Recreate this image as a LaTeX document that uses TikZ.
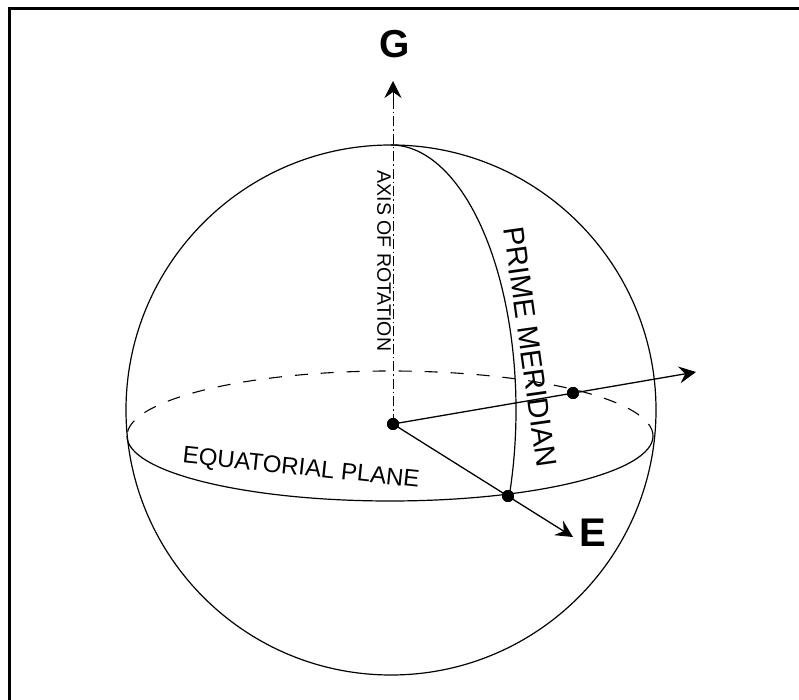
\documentclass[tikz,border=0pt]{standalone}
\usepackage{fontspec}
\setmainfont{Liberation Sans}
\usetikzlibrary{arrows.meta}
\begin{document}
\begin{tikzpicture}[x=1pt,y=1pt,
  thinline/.style={line width=1.2pt},
  dotnode/.style={circle,fill=black,inner sep=0pt,minimum size=12pt},
  arrowhd/.style={-{Stealth[length=17pt,width=17pt,inset=6pt]}},
  axisline/.style={line width=0.8pt,dash pattern=on 10pt off 3pt on 1.5pt off 3pt},
  backline/.style={line width=1.1pt,dash pattern=on 13pt off 13pt},
  lbl/.style={inner sep=0pt}
]
\useasboundingbox (0,0) rectangle (799,700);
\clip (0,0) rectangle (799,700);
\fill[white] (0,0) rectangle (799,700);
% frame
\draw[line width=3pt] (9.7,-30) -- (9.7,691) -- (830,691);
% sphere
\draw[thinline] (391,290) circle[radius=265];
% equator
\draw[thinline] (127,264) arc[start angle=180,end angle=360,x radius=263,y radius=65];
\draw[backline] (653,264) arc[start angle=0,end angle=180,x radius=263,y radius=65];
% dots
\node[dotnode] (O) at (393,276) {};
\node[dotnode] (P) at (573,307) {};
\node[dotnode] (Ed) at (508,204) {};
\coordinate (Gtip) at (393,619);
\coordinate (Xtip) at (696,328);
\coordinate (Etip) at (573,163);
% meridian
\draw[thinline] (391,555) arc[start angle=90,end angle=-18.9,x radius=125,y radius=265];
% axis and arrows
\draw[axisline] (O.center) -- (393,602);
\draw[line width=0.8pt,arrowhd] (393,600) -- (Gtip);
\draw[line width=1.3pt,arrowhd] (O.center) -- (Xtip);
\draw[line width=1.3pt,arrowhd] (O.center) -- (Etip);
\node[dotnode] at (P) {};
\node[dotnode] at (Ed) {};
\node[dotnode] at (O) {};
% labels
\node[lbl,font=\fontsize{39}{40}\selectfont\bfseries] (G) at (394.5,656) {G};
\node[lbl,font=\fontsize{40}{42}\selectfont\bfseries] (E) at (592.5,167.5) {E};
\node[lbl,rotate=-90,font=\fontsize{19.5}{20}\selectfont] (axl) at (384,439) {AXIS OF ROTATION};
\node[lbl,rotate=-82,font=\fontsize{29}{30}\selectfont] (pml) at (530,353) {PRIME MERIDIAN};
\node[lbl,rotate=-6,font=\fontsize{24}{25}\selectfont] (eql) at (301,231) {EQUATORIAL PLANE};
\end{tikzpicture}
\end{document}
